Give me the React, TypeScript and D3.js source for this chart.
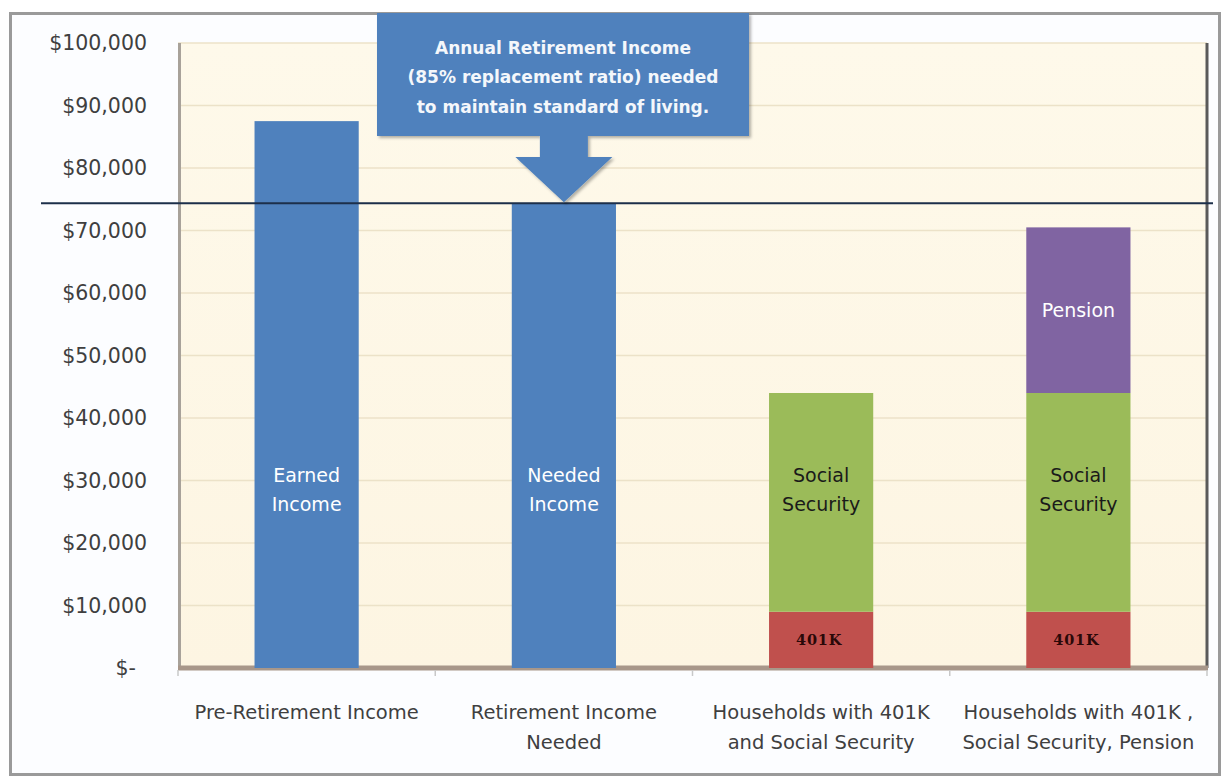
import React from "react";
import * as d3 from "d3";

const categories = [
  "Pre-Retirement Income",
  "Retirement Income Needed",
  "Households with 401K and Social Security",
  "Households with 401K , Social Security, Pension",
];
const categoryLines = [
  ["Pre-Retirement Income"],
  ["Retirement Income", "Needed"],
  ["Households with 401K", "and Social Security"],
  ["Households with 401K ,", "Social Security, Pension"],
];
const seriesKeys = ["earned", "needed", "k401", "social", "pension"];
const earnedIncome = [87500, 0, 0, 0];
const neededIncome = [0, 74375, 0, 0];
const k401Income = [0, 0, 9000, 9000];
const socialSecurity = [0, 0, 35000, 35000];
const pensionIncome = [0, 0, 0, 26500];
const seriesLabels = [
  ["Earned", "Income"],
  ["Needed", "Income"],
  ["401K"],
  ["Social", "Security"],
  ["Pension"],
];
const seriesColors = ["#4f81bd", "#4f81bd", "#c0504d", "#9bbb59", "#8064a2"];
const labelColors = ["#ffffff", "#ffffff", "#2a0808", "#1a1a1a", "#ffffff"];
const yTicks = [0, 10000, 20000, 30000, 40000, 50000, 60000, 70000, 80000, 90000, 100000];
const neededLine = 74375;
const calloutLines = [
  "Annual Retirement  Income",
  "(85% replacement ratio) needed",
  "to maintain standard of living.",
];

const W = 1227;
const H = 778;
const plot = { left: 178, right: 1207, top: 43, bottom: 668 };
const FONT = "'DejaVu Sans', sans-serif";

export default function App() {
  const x = d3
    .scaleBand<string>()
    .domain(categories)
    .range([plot.left, plot.right])
    .paddingInner(0.595)
    .paddingOuter(0.2975);
  const xOuter = d3.scaleBand<string>().domain(categories).range([plot.left, plot.right]);
  const y = d3.scaleLinear().domain([0, 100000]).range([plot.bottom, plot.top]);

  const rows = categories.map((c, i) => ({
    cat: c,
    earned: earnedIncome[i],
    needed: neededIncome[i],
    k401: k401Income[i],
    social: socialSecurity[i],
    pension: pensionIncome[i],
  }));
  const stacked = d3.stack<any>().keys(seriesKeys)(rows);
  const fmt = (v: number) => (v === 0 ? "$-" : "$" + d3.format(",")(v));

  const lineY = y(neededLine);
  const cx = (x(categories[1]) as number) + x.bandwidth() / 2;
  const box = { x0: 377, x1: 749, y0: 13, y1: 136 };
  const shaftW = 48;
  const headW = 97;
  const headY = 157;
  const arrowPath = [
    [box.x0, box.y0],
    [box.x1, box.y0],
    [box.x1, box.y1],
    [cx + shaftW / 2, box.y1],
    [cx + shaftW / 2, headY],
    [cx + headW / 2, headY],
    [cx, lineY - 1],
    [cx - headW / 2, headY],
    [cx - shaftW / 2, headY],
    [cx - shaftW / 2, box.y1],
    [box.x0, box.y1],
  ];
  const arrowD = d3.line()(arrowPath as [number, number][]) + "Z";

  return (
    <div style={{ position: "absolute", left: 0, top: 0 }}>
      <svg width={W} height={H} style={{ display: "block", fontFamily: FONT }}>
        <defs>
          <linearGradient id="plotbg" x1="0" y1="0" x2="0" y2="1">
            <stop offset="0" stopColor="#fef9ea" />
            <stop offset="1" stopColor="#fdf5e2" />
          </linearGradient>
          <filter id="shadow" x="-5%" y="-5%" width="110%" height="115%">
            <feDropShadow dx="2" dy="2" stdDeviation="1.5" floodColor="#000" floodOpacity="0.3" />
          </filter>
        </defs>
        <rect x={0} y={0} width={W} height={H} fill="#ffffff" />
        <rect x={10.5} y={13.5} width={1209} height={761} fill="#fcfdff" stroke="#9a9a9a" strokeWidth={3} />

        {/* plot area */}
        <rect
          x={plot.left}
          y={plot.top}
          width={plot.right - plot.left}
          height={plot.bottom - plot.top}
          fill="url(#plotbg)"
        />
        {yTicks.slice(1).map((t) => (
          <line
            key={"g" + t}
            x1={plot.left}
            x2={plot.right}
            y1={y(t)}
            y2={y(t)}
            stroke="#ece2c8"
            strokeWidth={1.5}
          />
        ))}
        <line x1={plot.left + 1.5} x2={plot.left + 1.5} y1={plot.top} y2={plot.bottom} stroke="#a8a29a" strokeWidth={3} />
        <line x1={plot.right} x2={plot.right} y1={plot.top} y2={plot.bottom} stroke="#5a5a5a" strokeWidth={3} />
        <line x1={plot.left} x2={plot.right + 1} y1={plot.bottom} y2={plot.bottom} stroke="#a8978a" strokeWidth={5} />

        {/* x tick marks */}
        {categories.map((c) => (
          <line
            key={"t" + c}
            x1={xOuter(c) as number}
            x2={xOuter(c) as number}
            y1={plot.bottom + 2}
            y2={plot.bottom + 8}
            stroke="#c8c8c8"
            strokeWidth={1.5}
          />
        ))}
        <line x1={plot.right} x2={plot.right} y1={plot.bottom + 2} y2={plot.bottom + 8} stroke="#c8c8c8" strokeWidth={1.5} />

        {/* bars */}
        {stacked.map((layer, si) =>
          layer.map((d, i) => {
            if (d[1] - d[0] <= 0) return null;
            const bx = x(categories[i]) as number;
            const bw = x.bandwidth();
            const y0 = y(d[0]);
            const y1 = y(d[1]);
            const mid = (y0 + y1) / 2;
            const lines = seriesLabels[si];
            const key = seriesKeys[si];
            const isSmall = key === "k401";
            const fs = isSmall ? 14.5 : 19;
            const lh = 29;
            const labelY = key === "earned" || key === "needed" || key === "social" ? y(28500) : mid;
            return (
              <g key={si + "-" + i}>
                <rect x={bx} y={y1} width={bw} height={y0 - y1} fill={seriesColors[si]} />
                {lines.map((ln, li) => (
                  <text
                    key={li}
                    x={bx + bw / 2 + (isSmall ? -2 : 0)}
                    y={labelY + (li - (lines.length - 1) / 2) * lh}
                    dy="0.35em"
                    textAnchor="middle"
                    fontSize={fs}
                    fontWeight={isSmall ? 700 : 400}
                    fontFamily={isSmall ? "'DejaVu Serif', serif" : FONT}
                    fill={labelColors[si]}
                    letterSpacing={isSmall ? 0.8 : 0}
                  >
                    {ln}
                  </text>
                ))}
              </g>
            );
          })
        )}

        {/* y axis labels */}
        {yTicks.map((t) => (
          <text
            key={"y" + t}
            x={t === 0 ? 136 : 147}
            y={y(t)}
            dy="0.35em"
            textAnchor="end"
            fontSize={20.5}
            fill="#3f3f3f"
          >
            {fmt(t)}
          </text>
        ))}

        {/* x axis labels */}
        {categories.map((c, i) => (
          <g key={"xl" + c}>
            {categoryLines[i].map((ln, li) => (
              <text
                key={li}
                x={(xOuter(c) as number) + xOuter.bandwidth() / 2}
                y={712 + li * 30}
                dy="0.35em"
                textAnchor="middle"
                fontSize={19.5}
                fill="#3f3f3f"
              >
                {ln}
              </text>
            ))}
          </g>
        ))}

        {/* reference line */}
        <line x1={41} x2={1213} y1={lineY} y2={lineY} stroke="#1c2f4a" strokeWidth={2} />

        {/* callout */}
        <path d={arrowD} fill="#4f81bd" filter="url(#shadow)" />
        {calloutLines.map((ln, li) => (
          <text
            key={"c" + li}
            x={(box.x0 + box.x1) / 2}
            y={48 + li * 29.5}
            dy="0.35em"
            textAnchor="middle"
            fontSize={17}
            fontWeight={700}
            fill="#f4f7fb"
          >
            {ln}
          </text>
        ))}
      </svg>
    </div>
  );
}
